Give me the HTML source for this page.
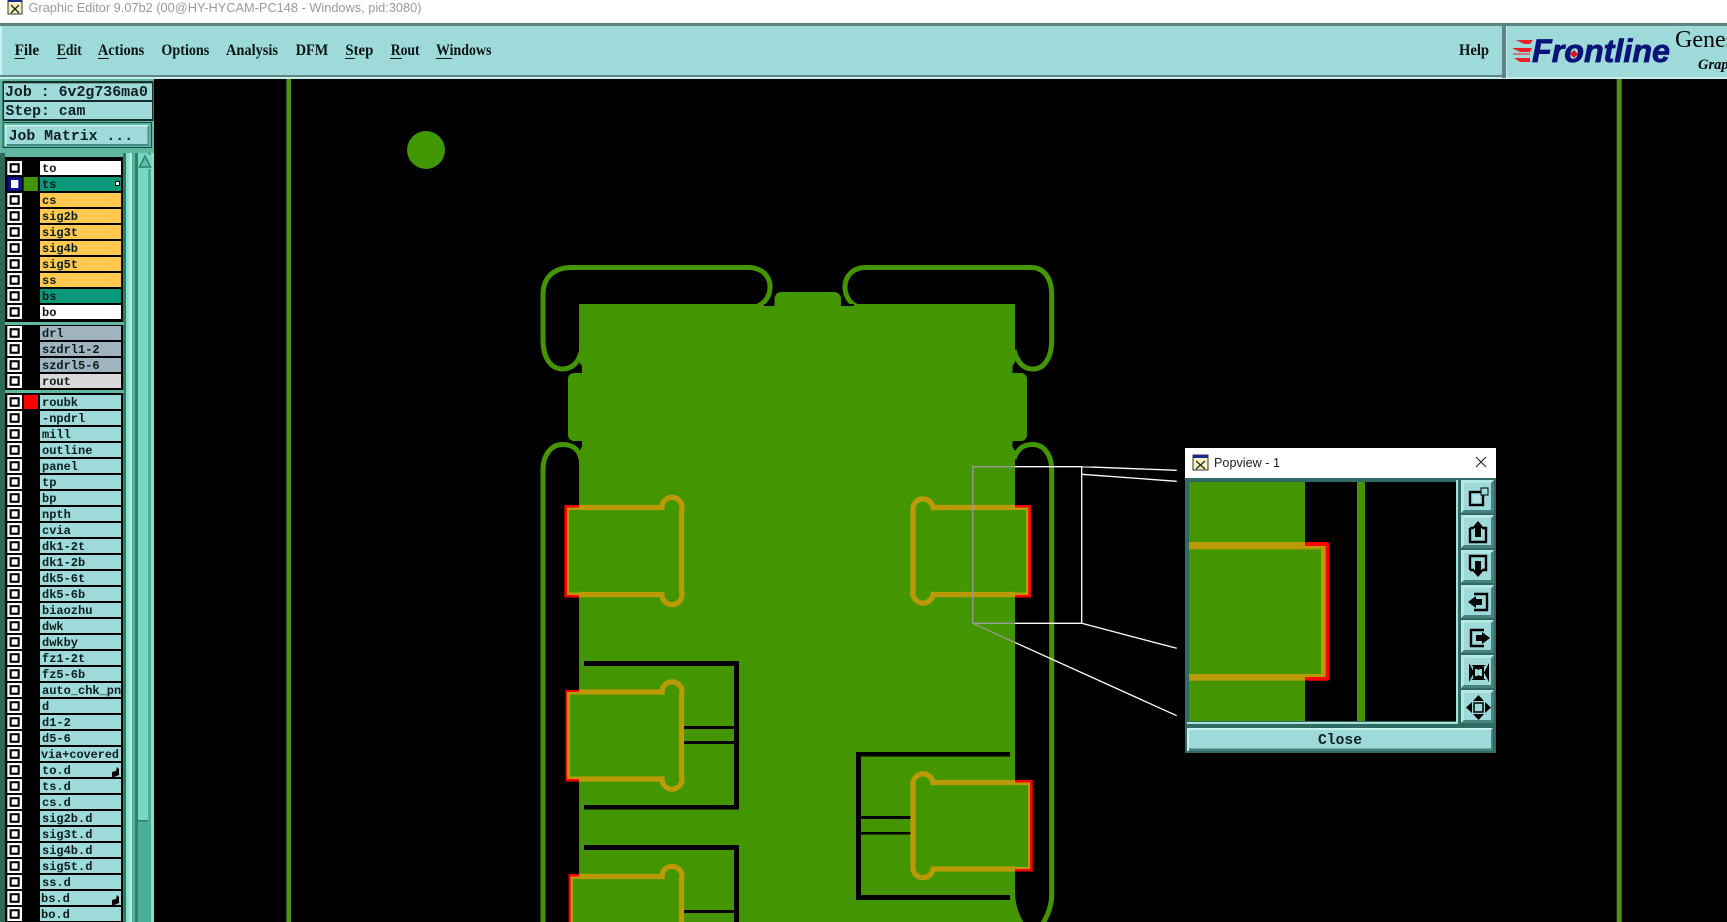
<!DOCTYPE html>
<html><head><meta charset="utf-8"><style>
html,body{margin:0;padding:0;background:#000;width:1727px;height:922px;overflow:hidden}
svg{display:block}
.m{font:bold 16px "Liberation Serif",serif;fill:#0a1414}
.j{font:bold 14.8px "Liberation Mono",monospace;fill:#102020}
.l{font:bold 12px "Liberation Mono",monospace;fill:#0c1c1c}
.i{fill:none;stroke:#000;stroke-width:2.4}
</style></head><body>
<svg width="1727" height="922" viewBox="0 0 1727 922" xmlns="http://www.w3.org/2000/svg">
<defs>
<g id="cb"><rect x="7.3" width="14.7" height="14" fill="#fff"/><rect x="9.6" y="2.2" width="10.1" height="9.6" fill="#000"/><rect x="11.7" y="4.3" width="5.9" height="5.4" fill="#fff"/></g>
<g id="btn"><rect width="33" height="33" fill="#47827f"/><path d="M0 0H33L30 3H3V30L0 33Z" fill="#b4e8e4"/><rect x="3" y="3" width="27" height="27" fill="#9edada"/></g>
<clipPath id="lc"><rect x="40" y="0" width="81" height="922"/></clipPath>
</defs>
<rect width="1727" height="922" fill="#000"/>

<!-- title bar -->
<rect width="1727" height="23" fill="#fff"/>
<rect x="8" y="0" width="14" height="14" fill="#f6f3b8" stroke="#333"/>
<rect x="8" y="0" width="14" height="2" fill="#1a2a90"/>
<path d="M11 5L19 13M19 5L11 13" stroke="#222" stroke-width="1.3"/>
<text x="28.5" y="12" font-family="Liberation Sans,sans-serif" font-size="12.5" fill="#9a9a9a" textLength="393" lengthAdjust="spacingAndGlyphs">Graphic Editor 9.07b2 (00@HY-HYCAM-PC148 - Windows, pid:3080)</text>

<!-- menu bar -->
<rect y="23" width="1727" height="56" fill="#c4efec"/>
<rect y="23" width="1727" height="3" fill="#5e8484"/>
<rect x="2" y="26" width="1500" height="51" fill="#9edada"/>
<rect x="1502" y="26" width="4" height="52" fill="#5e8484"/>
<rect x="0" y="75" width="1502" height="2" fill="#5e8484"/>
<rect x="1507" y="26" width="220" height="51" fill="#9edada"/>
<text class="m" x="14.6" y="55" textLength="24.6" lengthAdjust="spacingAndGlyphs">File</text>
<text class="m" x="56.8" y="55" textLength="25" lengthAdjust="spacingAndGlyphs">Edit</text>
<text class="m" x="97.9" y="55" textLength="46.4" lengthAdjust="spacingAndGlyphs">Actions</text>
<text class="m" x="161.4" y="55" textLength="47.9" lengthAdjust="spacingAndGlyphs">Options</text>
<text class="m" x="226" y="55" textLength="52" lengthAdjust="spacingAndGlyphs">Analysis</text>
<text class="m" x="295.7" y="55" textLength="32.5" lengthAdjust="spacingAndGlyphs">DFM</text>
<text class="m" x="345.4" y="55" textLength="27.9" lengthAdjust="spacingAndGlyphs">Step</text>
<text class="m" x="390.7" y="55" textLength="28.9" lengthAdjust="spacingAndGlyphs">Rout</text>
<text class="m" x="436" y="55" textLength="55.4" lengthAdjust="spacingAndGlyphs">Windows</text>
<text class="m" x="1459" y="55" textLength="30" lengthAdjust="spacingAndGlyphs">Help</text>
<g fill="#0a1414"><rect x="14.6" y="58" width="10.4" height="1"/><rect x="56.8" y="58" width="10" height="1"/><rect x="97.9" y="58" width="11" height="1"/><rect x="345" y="58" width="9.6" height="1"/><rect x="390" y="58" width="12" height="1"/><rect x="436" y="58" width="16" height="1"/></g>
<!-- logo -->
<path d="M1516 40H1533L1530 44H1524ZM1512 48H1532L1530 52H1520ZM1514 58H1530V62H1520Z" fill="#e8202a"/>
<path d="M1513 54H1530" stroke="#e8202a" stroke-width="1"/>
<text x="1532" y="62" font-family="Liberation Sans,sans-serif" font-size="32" font-weight="bold" font-style="italic" fill="#0a1478" stroke="#0a1478" stroke-width=".8" textLength="138" lengthAdjust="spacingAndGlyphs">Frontline</text>
<path d="M1574 50L1578 54L1574 58L1570 54Z" fill="#e0101a"/>
<text x="1675" y="47" font-family="Liberation Serif,serif" font-size="24" fill="#0a0a0a">Genesis</text>
<text x="1698" y="69" font-family="Liberation Serif,serif" font-size="14.5" font-weight="bold" font-style="italic" fill="#0a0a0a">Graphic</text>

<!-- left panel -->
<rect x="0" y="79" width="154" height="843" fill="#5fb8a2"/>
<rect x="0" y="153" width="5" height="769" fill="#2d6a58"/>
<rect x="2.5" y="81" width="151" height="40" fill="#000" opacity=".75"/>
<rect x="4" y="83.3" width="148" height="16.7" fill="#9edada"/>
<rect x="4" y="102" width="148" height="17" fill="#9edada"/>
<text class="j" x="5" y="96" textLength="143" lengthAdjust="spacingAndGlyphs">Job : 6v2g736ma0</text>
<text class="j" x="5.5" y="115">Step: cam</text>
<rect x="2.5" y="122" width="149.5" height="26" fill="#1c4a40"/>
<rect x="3.5" y="123" width="147.5" height="24" fill="#5fb8a2"/>
<rect x="5" y="125" width="144" height="21" fill="#4a8a88"/>
<path d="M5 125H149L147.5 126.5H6.5V146H5Z" fill="#c8f2ee"/>
<rect x="6.5" y="126.5" width="141" height="17.5" fill="#9edada"/>
<text class="j" x="8.6" y="140" textLength="124.5" lengthAdjust="spacingAndGlyphs">Job Matrix ...</text>
<!-- layer list frame & scroll -->
<rect x="5" y="157" width="118" height="765" fill="#000"/>
<rect x="123" y="153" width="3" height="769" fill="#2e7a68"/>
<rect x="126" y="153" width="3" height="769" fill="#86e0c8"/>
<rect x="129" y="153" width="3" height="769" fill="#a8ecdc"/>
<rect x="132" y="153" width="3" height="769" fill="#52b098"/>
<rect x="135" y="153" width="3" height="769" fill="#2e8070"/>
<rect x="138" y="153" width="10" height="668" fill="#78d8c0"/>
<rect x="148" y="153" width="3" height="668" fill="#4fae96"/>
<rect x="138" y="821" width="13" height="101" fill="#4caf94"/>
<rect x="138" y="820" width="10" height="1.5" fill="#2e8070"/>
<rect x="151" y="153" width="3" height="769" fill="#86e0c8"/>
<rect x="138" y="155" width="14" height="14" fill="#78d8c0"/>
<path d="M145 156L150.5 167H139.5Z" fill="#5fc0a8" stroke="#2e8070" stroke-width="1.5"/>
<rect x="5" y="322" width="119" height="3" fill="#5fb8a2"/>
<rect x="5" y="390" width="119" height="3" fill="#5fb8a2"/>

<!-- group 1 rows -->
<g>
<use href="#cb" y="161"/><rect x="40" y="161" width="81" height="14" fill="#fff"/><text class="l" x="42" y="172">to</text>
<rect x="7.3" y="177" width="14.7" height="14" fill="#08108a"/><rect x="11" y="180" width="7.3" height="8" fill="#fff"/><rect x="23.6" y="177" width="14.3" height="14" fill="#449600"/><rect x="40" y="177" width="81" height="14" fill="#089a78"/><text class="l" x="42" y="188">ts</text><rect x="115.5" y="181.5" width="4" height="4" fill="#fff" stroke="#000"/>
<use href="#cb" y="193"/><rect x="40" y="193" width="81" height="14" fill="#ffc84e"/><text class="l" x="42" y="204">cs</text>
<use href="#cb" y="209"/><rect x="40" y="209" width="81" height="14" fill="#ffc84e"/><text class="l" x="42" y="220">sig2b</text>
<use href="#cb" y="225"/><rect x="40" y="225" width="81" height="14" fill="#ffc84e"/><text class="l" x="42" y="236">sig3t</text>
<use href="#cb" y="241"/><rect x="40" y="241" width="81" height="14" fill="#ffc84e"/><text class="l" x="42" y="252">sig4b</text>
<use href="#cb" y="257"/><rect x="40" y="257" width="81" height="14" fill="#ffc84e"/><text class="l" x="42" y="268">sig5t</text>
<use href="#cb" y="273"/><rect x="40" y="273" width="81" height="14" fill="#ffc84e"/><text class="l" x="42" y="284">ss</text>
<use href="#cb" y="289"/><rect x="40" y="289" width="81" height="14" fill="#089a78"/><text class="l" x="42" y="300">bs</text>
<use href="#cb" y="305"/><rect x="40" y="305" width="81" height="14" fill="#fff"/><text class="l" x="42" y="316">bo</text>
</g>
<!-- group 2 -->
<g>
<use href="#cb" y="326"/><rect x="40" y="326" width="81" height="14" fill="#9fb4be"/><text class="l" x="42" y="337">drl</text>
<use href="#cb" y="342"/><rect x="40" y="342" width="81" height="14" fill="#9fb4be"/><text class="l" x="42" y="353">szdrl1-2</text>
<use href="#cb" y="358"/><rect x="40" y="358" width="81" height="14" fill="#9fb4be"/><text class="l" x="42" y="369">szdrl5-6</text>
<use href="#cb" y="374"/><rect x="40" y="374" width="81" height="14" fill="#d8d8d8"/><text class="l" x="42" y="385">rout</text>
</g>
<!-- group 3 -->
<g fill="#9edada">
<rect x="24" y="395" width="14" height="14" fill="#f00"/>
<use href="#cb" y="395"/><rect x="40" y="395" width="81" height="14"/>
<use href="#cb" y="411"/><rect x="40" y="411" width="81" height="14"/>
<use href="#cb" y="427"/><rect x="40" y="427" width="81" height="14"/>
<use href="#cb" y="443"/><rect x="40" y="443" width="81" height="14"/>
<use href="#cb" y="459"/><rect x="40" y="459" width="81" height="14"/>
<use href="#cb" y="475"/><rect x="40" y="475" width="81" height="14"/>
<use href="#cb" y="491"/><rect x="40" y="491" width="81" height="14"/>
<use href="#cb" y="507"/><rect x="40" y="507" width="81" height="14"/>
<use href="#cb" y="523"/><rect x="40" y="523" width="81" height="14"/>
<use href="#cb" y="539"/><rect x="40" y="539" width="81" height="14"/>
<use href="#cb" y="555"/><rect x="40" y="555" width="81" height="14"/>
<use href="#cb" y="571"/><rect x="40" y="571" width="81" height="14"/>
<use href="#cb" y="587"/><rect x="40" y="587" width="81" height="14"/>
<use href="#cb" y="603"/><rect x="40" y="603" width="81" height="14"/>
<use href="#cb" y="619"/><rect x="40" y="619" width="81" height="14"/>
<use href="#cb" y="635"/><rect x="40" y="635" width="81" height="14"/>
<use href="#cb" y="651"/><rect x="40" y="651" width="81" height="14"/>
<use href="#cb" y="667"/><rect x="40" y="667" width="81" height="14"/>
<use href="#cb" y="683"/><rect x="40" y="683" width="81" height="14"/>
<use href="#cb" y="699"/><rect x="40" y="699" width="81" height="14"/>
<use href="#cb" y="715"/><rect x="40" y="715" width="81" height="14"/>
<use href="#cb" y="731"/><rect x="40" y="731" width="81" height="14"/>
<use href="#cb" y="747"/><rect x="40" y="747" width="81" height="14"/>
<use href="#cb" y="763"/><rect x="40" y="763" width="81" height="14"/>
<use href="#cb" y="779"/><rect x="40" y="779" width="81" height="14"/>
<use href="#cb" y="795"/><rect x="40" y="795" width="81" height="14"/>
<use href="#cb" y="811"/><rect x="40" y="811" width="81" height="14"/>
<use href="#cb" y="827"/><rect x="40" y="827" width="81" height="14"/>
<use href="#cb" y="843"/><rect x="40" y="843" width="81" height="14"/>
<use href="#cb" y="859"/><rect x="40" y="859" width="81" height="14"/>
<use href="#cb" y="875"/><rect x="40" y="875" width="81" height="14"/>
<use href="#cb" y="891"/><rect x="40" y="891" width="81" height="14"/>
<use href="#cb" y="907"/><rect x="40" y="907" width="81" height="14"/>
</g>
<g clip-path="url(#lc)">
<text class="l" x="42" y="406">roubk</text>
<text class="l" x="42" y="422">-npdrl</text>
<text class="l" x="42" y="438">mill</text>
<text class="l" x="42" y="454">outline</text>
<text class="l" x="42" y="470">panel</text>
<text class="l" x="42" y="486">tp</text>
<text class="l" x="42" y="502">bp</text>
<text class="l" x="42" y="518">npth</text>
<text class="l" x="42" y="534">cvia</text>
<text class="l" x="42" y="550">dk1-2t</text>
<text class="l" x="42" y="566">dk1-2b</text>
<text class="l" x="42" y="582">dk5-6t</text>
<text class="l" x="42" y="598">dk5-6b</text>
<text class="l" x="42" y="614">biaozhu</text>
<text class="l" x="42" y="630">dwk</text>
<text class="l" x="42" y="646">dwkby</text>
<text class="l" x="42" y="662">fz1-2t</text>
<text class="l" x="42" y="678">fz5-6b</text>
<text class="l" x="42" y="694">auto_chk_pnl</text>
<text class="l" x="42" y="710">d</text>
<text class="l" x="42" y="726">d1-2</text>
<text class="l" x="42" y="742">d5-6</text>
<text class="l" x="41" y="758" textLength="78" lengthAdjust="spacingAndGlyphs">via+covered</text>
<text class="l" x="42" y="774">to.d</text>
<text class="l" x="42" y="790">ts.d</text>
<text class="l" x="42" y="806">cs.d</text>
<text class="l" x="42" y="822">sig2b.d</text>
<text class="l" x="42" y="838">sig3t.d</text>
<text class="l" x="42" y="854">sig4b.d</text>
<text class="l" x="42" y="870">sig5t.d</text>
<text class="l" x="42" y="886">ss.d</text>
<text class="l" x="41" y="902">bs.d</text>
<text class="l" x="41" y="918">bo.d</text>
</g>
<path d="M112 772L116 771L117 767L119 769V775L114 777H112Z" fill="#000"/>
<path d="M112 900L116 899L117 895L119 897V903L114 905H112Z" fill="#000"/>

<!-- canvas -->
<rect x="286.4" y="79" width="4.6" height="843" fill="#4f8f20"/>
<rect x="1616.7" y="79" width="5" height="843" fill="#4f8f20"/>
<circle cx="426" cy="150" r="19" fill="#409600"/>

<!-- outlines -->
<g fill="none" stroke="#449600" stroke-width="5">
<path d="M581 352C579 362 572 369 562.7 369C551 369 543 358 543 340V295C543 278 553 267.5 572 267.5H748C762 267.5 770 276 770 287C770 296 765 303 758 306"/>
<path d="M856 306C850 303 845 296 845 287C845 276 853 267.5 866 267.5H1031C1044 267.5 1051.7 278 1051.7 295V340C1051.7 358 1044 369 1033 369C1023 369 1017 362 1014 350"/>
<path d="M581 459C579 449 572 444.5 562.7 444.5C551 444.5 543 455 543 470V930"/>
<path d="M1014 459C1017 449 1023 444.5 1032.8 444.5C1044 444.5 1051.7 455 1051.7 470V895C1051.7 905 1048 915 1042 925"/>
</g>
<!-- main board -->
<rect x="579" y="304" width="436" height="618" fill="#449600"/>
<rect x="764" y="304" width="90" height="2" fill="#000"/>
<rect x="774.5" y="292" width="66.5" height="20" rx="7" fill="#449600"/>
<path d="M579 362L582 366V373H579ZM579 441H582V447L579 451ZM1015 362L1012.5 366V373H1015ZM1015 441H1012.5V447L1015 451Z" fill="#000"/>
<rect x="568" y="373" width="22" height="68" rx="6" fill="#449600"/>
<rect x="1005" y="373" width="22" height="68" rx="6" fill="#449600"/>
<path d="M1015 890C1015 905 1019 915 1025 925H1015Z" fill="#449600"/>

<!-- black boxes -->
<g fill="#000">
<rect x="584" y="661" width="155" height="5"/>
<rect x="734" y="661" width="5" height="148"/>
<rect x="584" y="805" width="155" height="4.5"/>
<rect x="684" y="726" width="50" height="3"/>
<rect x="684" y="741" width="50" height="3"/>
<rect x="584" y="845" width="155" height="5"/>
<rect x="734" y="845" width="5" height="77"/>
<rect x="684" y="910" width="50" height="3"/>
<rect x="856" y="752" width="154" height="4.5"/>
<rect x="856" y="752" width="5" height="148"/>
<rect x="856" y="895" width="154" height="5"/>
<rect x="861" y="816" width="50" height="3"/>
<rect x="861" y="832" width="50" height="2.5"/>
</g>

<!-- pad 1 left -->
<rect x="564.4" y="505" width="15" height="92.5" fill="#f00"/>
<rect x="567" y="507.5" width="12" height="87.5" fill="#ba9a06"/>
<rect x="569" y="510" width="10" height="82.5" fill="#449600"/>
<path d="M579 507.5H662A10 10 0 1 1 681.5 510.5V591.5A10 10 0 1 1 662 594.5H579" fill="#449600" stroke="#ba9a06" stroke-width="5.2"/>
<!-- pad 1 right -->
<rect x="1015" y="505" width="16" height="92.5" fill="#f00"/>
<rect x="1015" y="507.5" width="13.3" height="87.5" fill="#ba9a06"/>
<rect x="1015" y="510" width="11" height="82.5" fill="#449600"/>
<path d="M1015 507.5H933A10 10 0 1 0 913 510.5V591.5A10 10 0 1 0 933 594.5H1015" fill="#449600" stroke="#ba9a06" stroke-width="5.2"/>
<!-- pad 2 left -->
<rect x="565.5" y="690" width="14" height="91.5" fill="#f00"/>
<rect x="567" y="692" width="12" height="87" fill="#ba9a06"/>
<rect x="570" y="694.5" width="9" height="82" fill="#449600"/>
<path d="M579 692H662A10 10 0 1 1 681.5 695V776A10 10 0 1 1 662 779H579" fill="#449600" stroke="#ba9a06" stroke-width="5.2"/>
<!-- pad 3 right -->
<rect x="1015" y="780" width="17.7" height="91.5" fill="#f00"/>
<rect x="1015" y="782.5" width="15" height="86.5" fill="#ba9a06"/>
<rect x="1015" y="785" width="13" height="82" fill="#449600"/>
<path d="M1015 782.5H933A10 10 0 1 0 913 785.5V866A10 10 0 1 0 933 869H1015" fill="#449600" stroke="#ba9a06" stroke-width="5.2"/>
<!-- pad 4 left -->
<rect x="568.6" y="874" width="11" height="48" fill="#f00"/>
<rect x="570.6" y="876.5" width="9" height="46" fill="#ba9a06"/>
<rect x="573" y="879" width="6" height="43" fill="#449600"/>
<path d="M579 876.5H662A10 10 0 1 1 681.5 879.5V930H579" fill="#449600" stroke="#ba9a06" stroke-width="5.2"/>

<!-- selection and connector lines -->
<g fill="none" stroke-width="1.3">
<path d="M1015 466.7H1081.7V623.3H1015M1081.7 466.7L1176.7 470.3M1081.7 474.3L1176.7 481.3M1081.7 623.3L1176.7 648.3M1015 642.5L1176.7 715.7" stroke="#fff"/>
<path d="M1015 466.7H972.7V623.3H1015M972.7 623.3L1015 642.5" stroke="#999"/>
</g>

<!-- popview -->
<rect x="1185" y="448" width="311" height="305" fill="#2f6b62"/>
<rect x="1185" y="448" width="311" height="30" fill="#fff"/>
<rect x="1193" y="455" width="15" height="15" fill="#f6f3b8" stroke="#333"/>
<rect x="1193" y="455" width="15" height="3" fill="#1a2a90"/>
<path d="M1196 461L1205 469M1205 461L1196 469" stroke="#222" stroke-width="1.2"/>
<text x="1214" y="467" font-family="Liberation Sans,sans-serif" font-size="12.5" fill="#222" textLength="66" lengthAdjust="spacingAndGlyphs">Popview - 1</text>
<path d="M1476 457L1486 467M1486 457L1476 467" stroke="#222" stroke-width="1.1"/>
<rect x="1187" y="480" width="271" height="244" fill="#a8e0d8"/>
<rect x="1187" y="480" width="269" height="242" fill="#2f6b62"/>
<rect x="1189" y="482" width="267" height="239" fill="#000"/>
<rect x="1189" y="482" width="116" height="239" fill="#449600"/>
<rect x="1305" y="542" width="24" height="138.7" rx="2" fill="#f00"/>
<rect x="1189" y="542" width="116" height="7.3" fill="#ba9a06"/>
<rect x="1189" y="674" width="116" height="6.7" fill="#ba9a06"/>
<rect x="1305" y="546" width="20.7" height="131" fill="#ba9a06"/>
<rect x="1305" y="549.3" width="16" height="124.7" fill="#449600"/>
<rect x="1357" y="482" width="8" height="239" fill="#449600"/>
<!-- toolbar -->
<use href="#btn" x="1461" y="480"/>
<use href="#btn" x="1461" y="515"/>
<use href="#btn" x="1461" y="550"/>
<use href="#btn" x="1461" y="585"/>
<use href="#btn" x="1461" y="620"/>
<use href="#btn" x="1461" y="655"/>
<use href="#btn" x="1461" y="690"/>
<g><rect class="i" x="1470" y="492" width="13" height="13"/><rect x="1473" y="495" width="7" height="7" fill="#b8e8e4"/><rect x="1481" y="488" width="7" height="7" fill="#9edada" stroke="#000"/></g>
<g><path class="i" d="M1470 528V542H1486V528H1482M1474 528H1470"/><path d="M1478 521L1484 528H1481V537H1475V528H1472Z" fill="#000"/></g>
<g><path class="i" d="M1470 570V556H1486V570H1482M1474 570H1470"/><path d="M1478 577L1484 570H1481V561H1475V570H1472Z" fill="#000"/></g>
<g><path class="i" d="M1474 594H1487V610H1474"/><path d="M1468 602L1476 596V599H1482V605H1476V608Z" fill="#000"/></g>
<g><path class="i" d="M1484 630H1471V646H1484"/><path d="M1490 638L1482 632V635H1476V641H1482V644Z" fill="#000"/></g>
<g fill="#000"><rect x="1474" y="668" width="9" height="9" fill="none" stroke="#000" stroke-width="2"/><path d="M1471 665H1486L1478.5 670ZM1471 680H1486L1478.5 675ZM1469 663V682L1474 672.5ZM1489 663V682L1484 672.5Z"/></g>
<g fill="#000"><rect x="1474" y="703" width="9" height="9" fill="none" stroke="#000" stroke-width="1.5"/><path d="M1478.5 695L1484 701H1473ZM1478.5 720L1484 714H1473ZM1466 707.5L1472 702V713ZM1491 707.5L1485 702V713Z"/></g>
<!-- close button -->
<rect x="1187" y="728" width="306" height="23" fill="#47827f"/>
<path d="M1187 728H1493L1491 730H1189V751H1187Z" fill="#c8f2ee"/>
<rect x="1189" y="730" width="302" height="18.5" fill="#9edada"/>
<text class="j" x="1318" y="744" textLength="44" lengthAdjust="spacingAndGlyphs">Close</text>
</svg>
</body></html>
